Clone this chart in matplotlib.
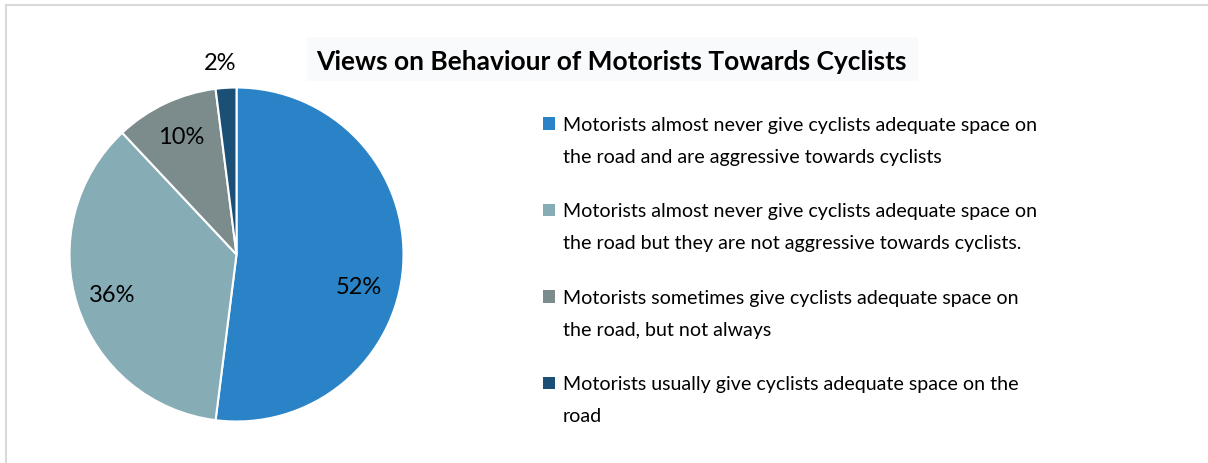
import matplotlib
matplotlib.use("Agg")
import matplotlib.pyplot as plt
from matplotlib.patches import Rectangle
from matplotlib.lines import Line2D

W, H = 1208, 464
FONT = ['Lato', 'DejaVu Sans']
plt.rcParams['font.family'] = FONT

title = "Views on Behaviour of Motorists Towards Cyclists"
categories = [
    "Motorists almost never give cyclists adequate space on\nthe road and are aggressive towards cyclists",
    "Motorists almost never give cyclists adequate space on\nthe road but they are not aggressive towards cyclists.",
    "Motorists sometimes give cyclists adequate space on\nthe road, but not always",
    "Motorists usually give cyclists adequate space on the\nroad",
]
values = [52, 36, 10, 2]
colors = ["#2983C6", "#86ADB6", "#7C8C8D", "#1B4F76"]

fig = plt.figure(figsize=(W / 100, H / 100), dpi=100)
fig.patch.set_facecolor("white")

def fx(x):
    return x / W

def fy(y):
    return 1 - y / H

# outer border (only top and left edges visible in the crop)
fig.lines.append(Line2D([fx(5.5), 1.01], [fy(5.5), fy(5.5)], transform=fig.transFigure,
                        color="#d9d9d9", linewidth=1.5))
fig.lines.append(Line2D([fx(5.5), fx(5.5)], [fy(5.5), -0.01], transform=fig.transFigure,
                        color="#d9d9d9", linewidth=1.5))

# pie
cx, cy, r = 236.5, 255.5, 167
ax = fig.add_axes([fx(cx - r), fy(cy + r), 2 * r / W, 2 * r / H])
wedges, texts, autotexts = ax.pie(
    values, colors=colors, startangle=90, counterclock=False,
    autopct=lambda p: f"{p:.0f}%", pctdistance=0.78,
    wedgeprops=dict(edgecolor="white", linewidth=1.5),
    textprops=dict(fontsize=17, color="black"))
ax.set_xlim(-1, 1)
ax.set_ylim(-1, 1)
ax.set_aspect("auto")
ax.axis("off")
# label adjustments (Excel best-fit placement)
autotexts[0].set_position((0.73, -0.19))
autotexts[3].set_position((-0.10, 1.15))

# title with light box
fig.patches.append(Rectangle((fx(307), fy(82)), fx(918 - 307), (82 - 38) / H,
                             transform=fig.transFigure, facecolor="#f9fafc",
                             edgecolor="none", zorder=0))
fig.text(fx(316), fy(70), title, fontsize=19, fontweight="bold",
         ha="left", va="baseline", color="black")

# legend (manual, first-line aligned squares)
base0, entry_gap, line_gap = 131, 86.5, 32
for i, (lab, col) in enumerate(zip(categories, colors)):
    b = base0 + entry_gap * i
    fig.patches.append(Rectangle((fx(543), fy(b - 0.5)), fx(12), 12.5 / H,
                                 transform=fig.transFigure, facecolor=col,
                                 edgecolor="none"))
    for j, line in enumerate(lab.split("\n")):
        fig.text(fx(563), fy(b + j * line_gap), line, fontsize=14.1,
                 ha="left", va="baseline", color="black")

fig.savefig("out.png", dpi=100, facecolor="white")
